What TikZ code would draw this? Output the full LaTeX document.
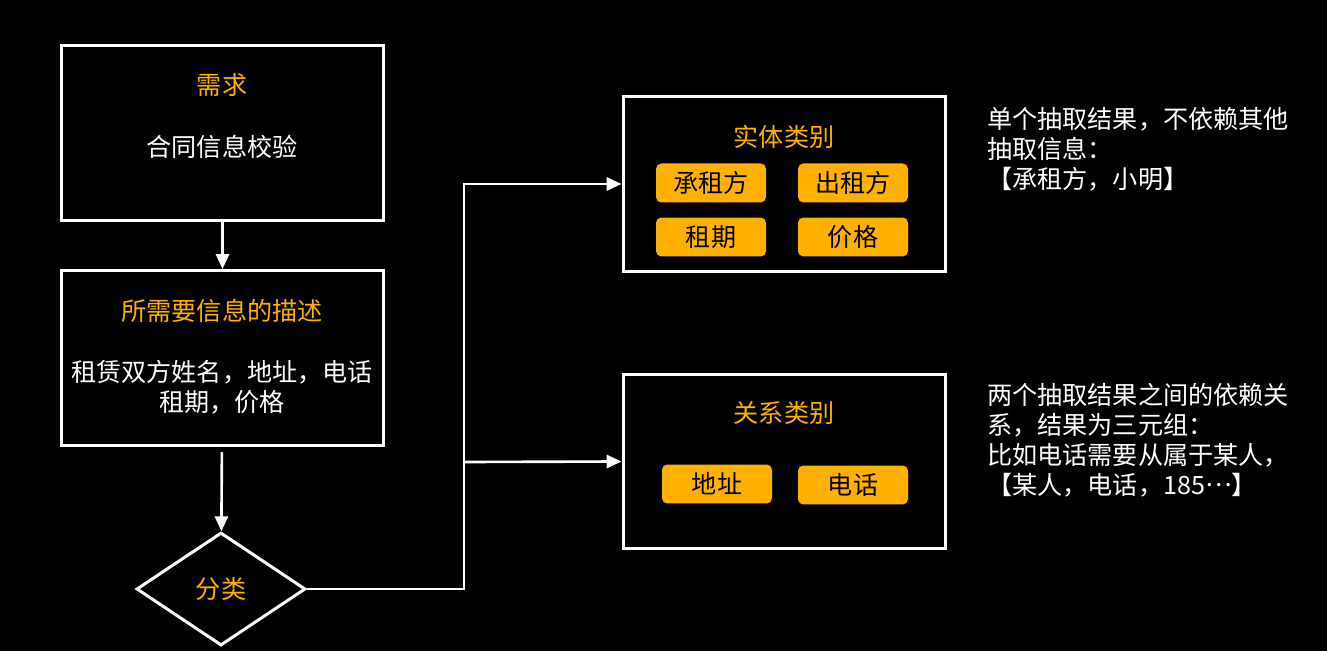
\documentclass[tikz,border=0pt]{standalone}
\usepackage{fontspec}
\setmainfont{Noto Sans CJK SC}
\usetikzlibrary{shapes.geometric,arrows.meta,positioning,calc}
\definecolor{amber}{HTML}{FFB000}

\begin{document}
\begin{tikzpicture}[x=0.02cm,y=-0.02cm,font=\fontsize{14.3pt}{17pt}\selectfont,
  box/.style={draw=white,line width=1.7pt,minimum width=6.46cm,minimum height=3.5cm,inner sep=0pt},
  title/.style={text=amber,inner sep=0pt},
  body/.style={text=white,align=center,inner sep=0pt},
  pill/.style={fill=amber,rounded corners=3pt,minimum width=2.2cm,minimum height=0.78cm,inner sep=0pt,text=black},
  note/.style={text=white,align=left,anchor=north west,inner sep=0pt},
  link/.style={white,line width=1.5pt},
  arrow/.style={link,-{Triangle[width=7.5pt,length=8.5pt]}}]
\fill[black] (0,0) rectangle (1327,651);
% left column
\node[box] (req) at (222.5,133) {};
\node[title] (reqtitle) at (222,85) {需求};
\node[body] (reqtext) at (222,147) {合同信息校验};
\node[box] (desc) at (222.5,358) {};
\node[title] (desctitle) at (222,311) {所需要信息的描述};
\node[body] (desctext) at (222,387) {租赁双方姓名，地址，电话\\租期，价格};
\node[diamond,draw=white,line width=1.7pt,minimum width=3.38cm,minimum height=2.26cm,inner sep=0pt,text=amber] (cls) at (221,589) {分类};
\draw[arrow] (req) -- (desc);
\draw[arrow,shorten <=3pt] (desc) -- (cls);
% right column
\node[box] (ent) at (784.5,184) {};
\node[title] (enttitle) at (784,137) {实体类别};
\node[pill] (tenant) at (711,183) {承租方};
\node[pill] (landlord) at (853,183) {出租方};
\node[pill] (term) at (711,237) {租期};
\node[pill] (price) at (853,237) {价格};
\node[box] (rel) at (784.5,461.5) {};
\node[title] (reltitle) at (784,413) {关系类别};
\node[pill] (addr) at (717,484) {地址};
\node[pill] (phone) at (853,485) {电话};
% connectors
\coordinate (fork) at (464,462);
\draw[arrow] (cls.east) -| (fork) |- (ent.west);
\draw[arrow] (fork) -- (rel.west);
% notes
\node[note] (entnote) at (987,107) {单个抽取结果，不依赖其他\\抽取信息：\\【承租方，小明】};
\node[note] (relnote) at (987,383) {两个抽取结果之间的依赖关\\系，结果为三元组：\\比如电话需要从属于某人，\\【某人，电话，185\raisebox{0.3em}[0pt][0pt]{⋯}】};
\end{tikzpicture}
\end{document}
